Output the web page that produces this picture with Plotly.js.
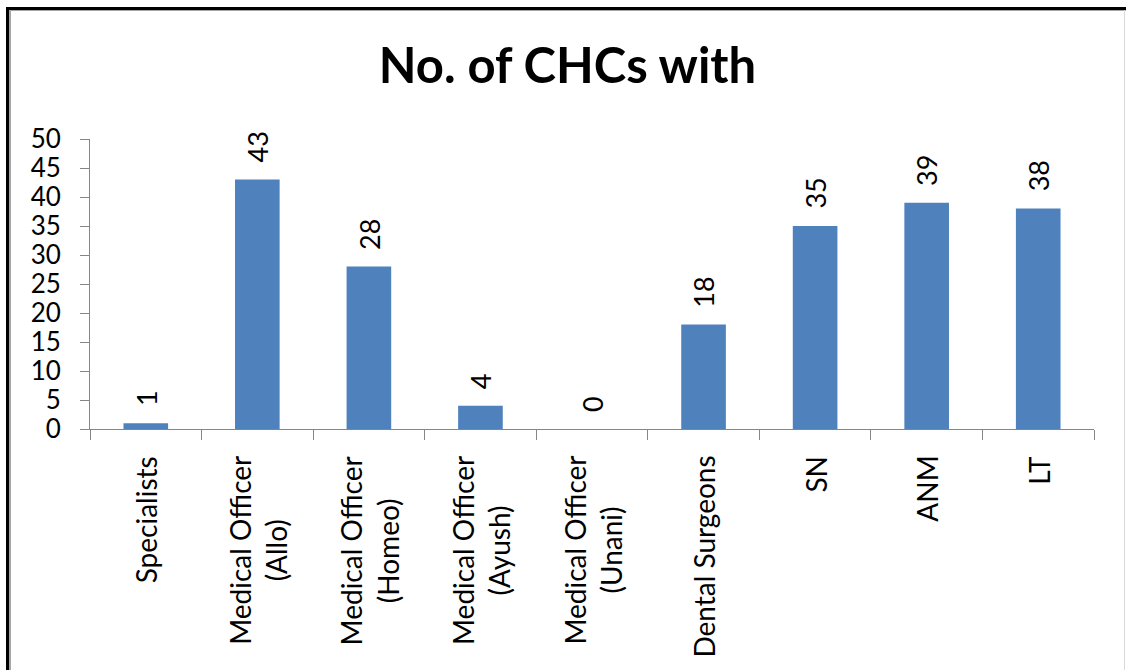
<!DOCTYPE html>
<html>
<head>
<meta charset="utf-8">
<script src="https://cdn.plot.ly/plotly-3.0.1.min.js"></script>
<style>
  html, body { margin: 0; padding: 0; background: #fff; }
  #wrap { position: relative; width: 1126px; height: 670px; overflow: hidden; }
  #chart { position: absolute; left: 0; top: 0; width: 1126px; height: 670px; }
  .ln { position: absolute; pointer-events: none; }
</style>
</head>
<body>
<div id="wrap">
  <div id="chart"></div>
  <div class="ln" style="left:6px;top:7px;width:3px;height:663px;background:#000;"></div>
  <div class="ln" style="left:9px;top:10px;width:2px;height:660px;background:#a6a6a6;"></div>
  <div class="ln" style="left:6px;top:7px;width:1120px;height:3px;background:#000;"></div>
  <div class="ln" style="left:9px;top:10px;width:1117px;height:1px;background:#a6a6a6;"></div>
  <div class="ln" style="left:1124px;top:10px;width:1px;height:660px;background:#d9d9d9;"></div>
</div>
<script>
const titleText = "No. of CHCs with";
const categories = [
  "Specialists",
  "Medical Officer<br>(Allo)",
  "Medical Officer<br>(Homeo)",
  "Medical Officer<br>(Ayush)",
  "Medical Officer<br>(Unani)",
  "Dental Surgeons",
  "SN",
  "ANM",
  "LT"
];
const values = [1, 43, 28, 4, 0, 18, 35, 39, 38];
const yTicks = [0, 5, 10, 15, 20, 25, 30, 35, 40, 45, 50];

const FONT = "Lato, 'Noto Sans', sans-serif";
const barColor = "#4F81BD";
const axisColor = "#868686";

const trace = {
  type: "bar",
  x: categories,
  y: values,
  marker: { color: barColor, line: { width: 0 } },
  hoverinfo: "x+y"
};

// value labels above the bars
const valueLabels = categories.map((c, i) => ({
  x: c,
  y: values[i],
  xref: "x",
  yref: "y",
  text: String(values[i]),
  showarrow: false,
  textangle: -90,
  xanchor: "center",
  yanchor: "bottom",
  yshift: 15,
  font: { family: FONT, size: 27, color: "#000" }
}));

// category labels below the axis (rotated, lines centred like the reference)
const categoryLabels = categories.map((c) => ({
  x: c,
  y: 0,
  xref: "x",
  yref: "y",
  text: c,
  showarrow: false,
  textangle: -90,
  align: "center",
  xanchor: "center",
  yanchor: "top",
  yshift: -25,
  font: { family: FONT, size: 28, color: "#000" }
}));

const layout = {
  width: 1126,
  height: 670,
  margin: { l: 90, r: 32, t: 139, b: 241, pad: 0 },
  paper_bgcolor: "#fff",
  plot_bgcolor: "#fff",
  showlegend: false,
  bargap: 0.6,
  title: {
    text: "<b>" + titleText + "</b>",
    font: { family: FONT, size: 49, color: "#000" },
    x: 0.504,
    xref: "container",
    xanchor: "center",
    y: 1 - 66 / 670,
    yref: "container",
    yanchor: "middle"
  },
  xaxis: {
    type: "category",
    showgrid: false,
    zeroline: false,
    showline: true,
    linecolor: axisColor,
    linewidth: 1,
    ticks: "outside",
    tickson: "boundaries",
    ticklen: 10,
    tickcolor: axisColor,
    tickwidth: 1,
    showticklabels: false,
    automargin: false
  },
  yaxis: {
    range: [0, 50],
    tickvals: yTicks,
    ticktext: yTicks.map(String),
    showgrid: false,
    zeroline: false,
    showline: true,
    linecolor: axisColor,
    linewidth: 1,
    ticks: "outside",
    ticklen: 9,
    tickcolor: axisColor,
    tickwidth: 1,
    ticklabelstandoff: 14,
    tickfont: { family: FONT, size: 26, color: "#000" },
    automargin: false
  },
  annotations: valueLabels.concat(categoryLabels)
};

Plotly.newPlot("chart", [trace], layout, { staticPlot: true, displayModeBar: false });
</script>
</body>
</html>
